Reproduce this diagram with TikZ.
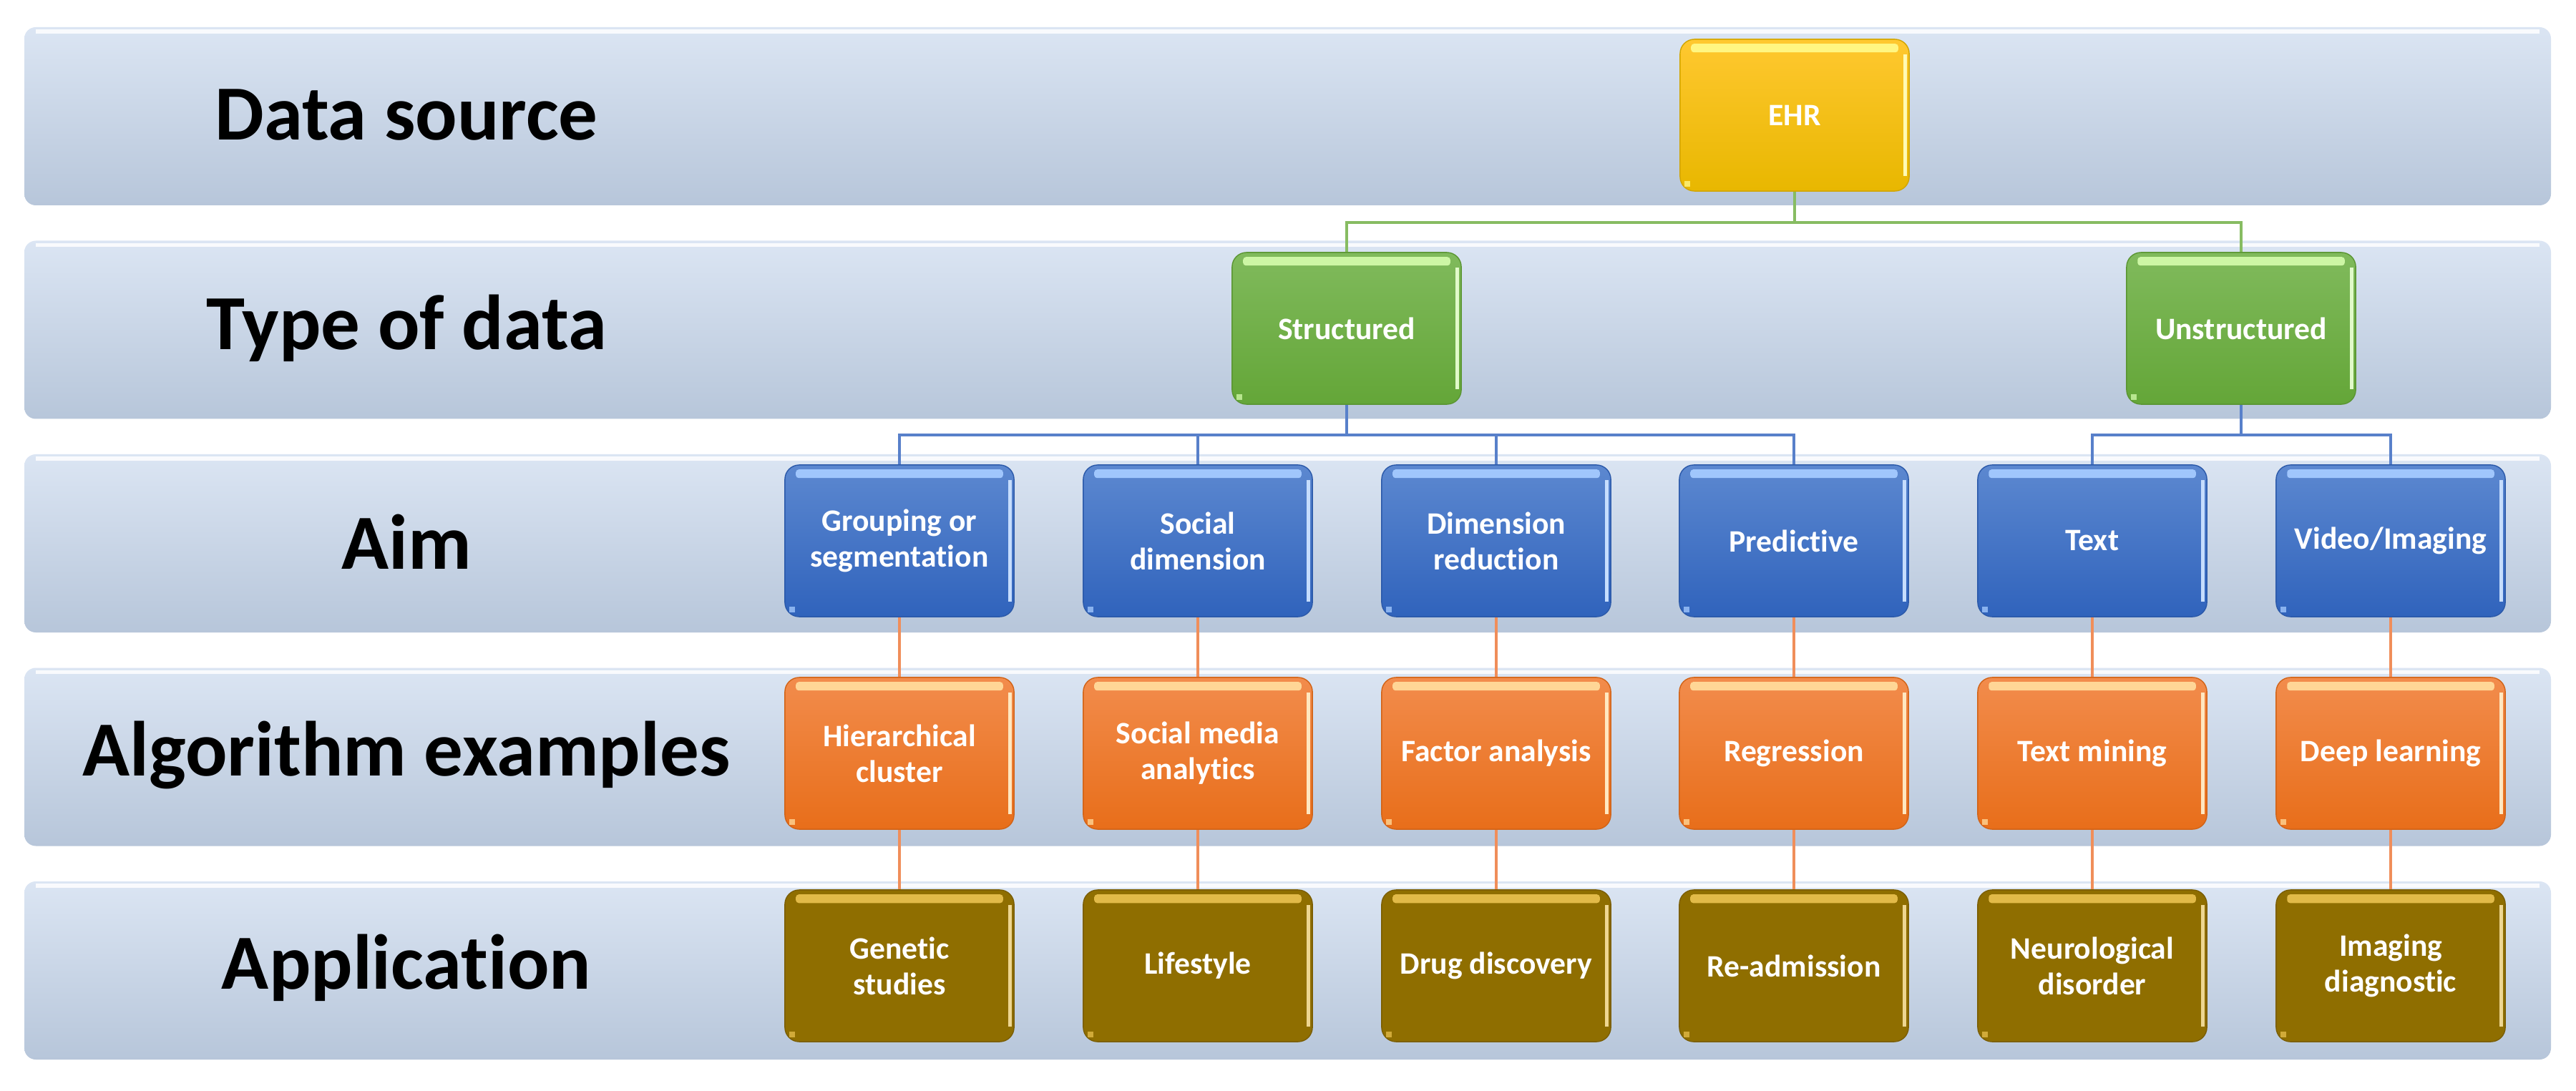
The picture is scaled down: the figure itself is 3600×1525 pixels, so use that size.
\documentclass[tikz,border=0pt]{standalone}
\usepackage{fontspec}
\setmainfont{Carlito}[Ligatures={NoCommon}]
\definecolor{bandtop}{RGB}{219,229,243}
\definecolor{bandbot}{RGB}{183,198,218}
\definecolor{ehrtop}{RGB}{255,200,48}
\definecolor{ehrbot}{RGB}{232,183,0}
\definecolor{grtop}{RGB}{128,186,92}
\definecolor{grbot}{RGB}{100,166,56}
\definecolor{bltop}{RGB}{92,136,208}
\definecolor{blbot}{RGB}{48,99,188}
\definecolor{ortop}{RGB}{242,140,76}
\definecolor{orbot}{RGB}{232,110,26}
\definecolor{olv}{RGB}{143,110,0}
\definecolor{glinec}{RGB}{135,188,98}
\definecolor{blinec}{RGB}{88,128,202}
\definecolor{olinec}{RGB}{240,142,90}
\begin{document}
\begin{tikzpicture}[x=0.01cm,y=-0.01cm,
  band/.style={top color=bandtop,bottom color=bandbot,rounded corners=0.16cm},
  bandlabel/.style={font=\fontsize{31}{36}\selectfont\bfseries,text=black,anchor=center},
  box/.style={rounded corners=0.2cm,minimum width=3.2cm,minimum height=2.12cm,
    inner sep=0pt,align=center,text=white,
    font=\fontsize{12.4}{14.2}\selectfont\bfseries},
  ehrbox/.style={box,top color=ehrtop,bottom color=ehrbot,draw=ehrbot!90!black,line width=0.4pt},
  grbox/.style={box,top color=grtop,bottom color=grbot,draw=grbot!90!black,line width=0.4pt},
  blbox/.style={box,top color=bltop,bottom color=blbot,draw=blbot!90!black,line width=0.4pt},
  orbox/.style={box,top color=ortop,bottom color=orbot,draw=orbot!90!black,line width=0.4pt},
  olbox/.style={box,fill=olv,draw=olv!85!black,line width=0.4pt},
  gline/.style={draw=glinec,line width=1.2pt},
  bline/.style={draw=blinec,line width=1.2pt},
  oline/.style={draw=olinec,line width=1.2pt}
]
\useasboundingbox (0,0) rectangle (3600,1525);
\fill[white] (0,0) rectangle (3600,1525);

% bands
\foreach \i in {0,...,4}{
  \shade[band] (34,{38+298.5*\i}) rectangle (3565,{287+298.5*\i});
  \draw[white,opacity=0.85,line width=1.6pt] (50,{44+298.5*\i}) -- (3549,{44+298.5*\i});
}

% band labels
\node[bandlabel] (lab1) at (568,161) {Data source};
\node[bandlabel] (lab2) at (568,459) {Type of data};
\node[bandlabel] (lab3) at (568,757) {Aim};
\node[bandlabel] (lab4) at (568,1055) {Algorithm examples};
\node[bandlabel] (lab5) at (568,1353) {Application};

% nodes
\node[ehrbox] (ehr) at (2508,161) {EHR};
\node[grbox] (str) at (1882,459) {Structured};
\node[grbox] (uns) at (3132,459) {Unstructured};

\node[blbox] (a1) at (1257,756) {Grouping or\\segmentation};
\node[blbox] (a2) at (1674,756) {Social\\dimension};
\node[blbox] (a3) at (2091,756) {Dimension\\reduction};
\node[blbox] (a4) at (2507,756) {Predictive};
\node[blbox] (a5) at (2924,756) {Text};
\node[blbox] (a6) at (3341,756) {Video/Imaging};

\node[orbox] (g1) at (1257,1053) {Hierarchical\\cluster};
\node[orbox] (g2) at (1674,1053) {Social media\\analytics};
\node[orbox] (g3) at (2091,1053) {Factor analysis};
\node[orbox] (g4) at (2507,1053) {Regression};
\node[orbox] (g5) at (2924,1053) {Text mining};
\node[orbox] (g6) at (3341,1053) {Deep learning};

\node[olbox] (p1) at (1257,1350) {Genetic\\studies};
\node[olbox] (p2) at (1674,1350) {Lifestyle};
\node[olbox] (p3) at (2091,1350) {Drug discovery};
\node[olbox] (p4) at (2507,1350) {Re-admission};
\node[olbox] (p5) at (2924,1350) {Neurological\\disorder};
\node[olbox] (p6) at (3341,1350) {Imaging\\diagnostic};

% glossy highlights
\foreach \n/\hc in {ehr/{255,246,130},str/{205,246,165},uns/{205,246,165},
  a1/{160,198,252},a2/{160,198,252},a3/{160,198,252},a4/{160,198,252},a5/{160,198,252},a6/{160,198,252},
  g1/{255,214,150},g2/{255,214,150},g3/{255,214,150},g4/{255,214,150},g5/{255,214,150},g6/{255,214,150},
  p1/{226,186,72},p2/{226,186,72},p3/{226,186,72},p4/{226,186,72},p5/{226,186,72},p6/{226,186,72}}{
  \definecolor{hl}{RGB}{\hc}
  \fill[hl,rounded corners=0.04cm] ([xshift=0.16cm,yshift=-0.07cm]\n.north west) rectangle ([xshift=-0.16cm,yshift=-0.19cm]\n.north east);
  \fill[hl!60!white] ([xshift=-0.09cm,yshift=-0.22cm]\n.north east) rectangle ([xshift=-0.04cm,yshift=0.22cm]\n.south east);
  \fill[hl,opacity=0.8] ([xshift=0.07cm,yshift=0.07cm]\n.south west) rectangle ([xshift=0.15cm,yshift=0.15cm]\n.south west);
}

% connectors
\coordinate (gbus) at (0,311);
\coordinate (bbus) at (0,608);
\draw[gline] (ehr.south) -- (ehr.south |- gbus) -| (str.north);
\draw[gline] (ehr.south |- gbus) -| (uns.north);
\foreach \a in {a1,a2,a3,a4}{
  \draw[bline] (str.south) -- (str.south |- bbus) -| (\a.north);
}
\foreach \a in {a5,a6}{
  \draw[bline] (uns.south) -- (uns.south |- bbus) -| (\a.north);
}
\foreach \k in {1,...,6}{
  \draw[oline] (a\k.south) -- (g\k.north);
  \draw[oline] (g\k.south) -- (p\k.north);
}
\end{tikzpicture}
\end{document}
